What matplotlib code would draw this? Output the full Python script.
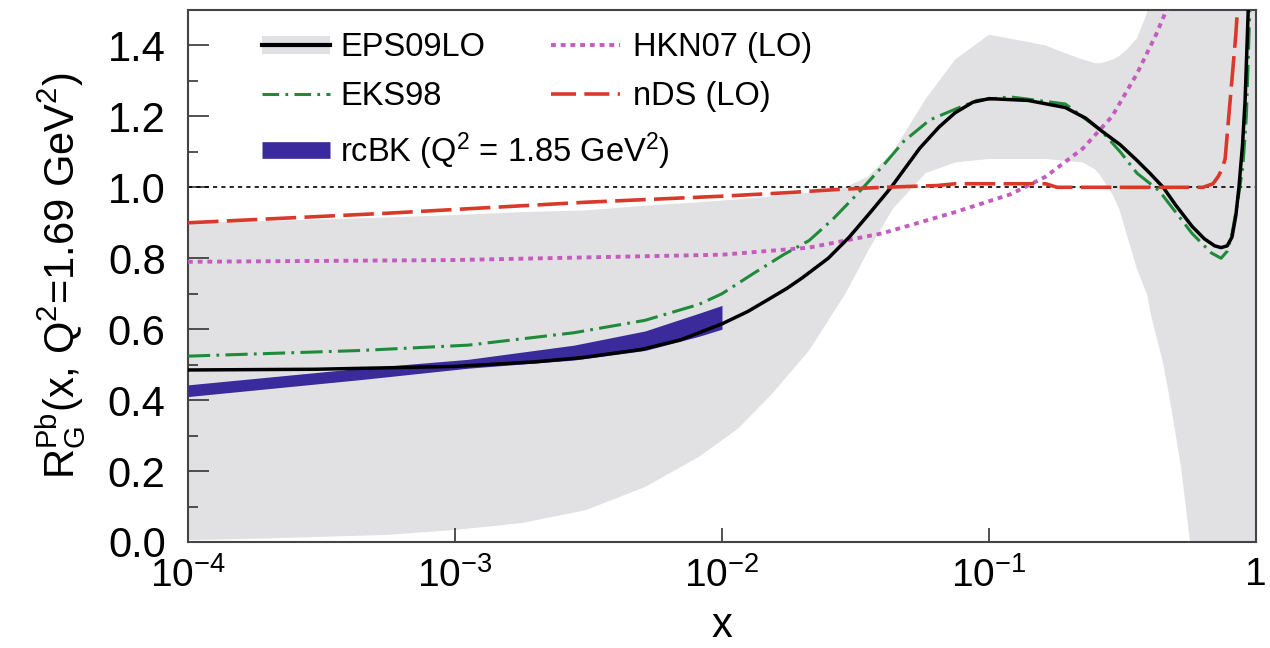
import matplotlib
matplotlib.use("Agg")
import matplotlib.pyplot as plt
from matplotlib.lines import Line2D
from matplotlib.ticker import MultipleLocator, NullLocator, FixedLocator, FixedFormatter

plt.rcParams['font.family'] = ['Liberation Sans', 'DejaVu Sans']
plt.rcParams['mathtext.default'] = 'regular'
plt.rcParams['lines.scale_dashes'] = False

# EPS09LO uncertainty band
band_x = [1e-4, 2e-4, 5.6e-4, 1e-3, 1.77e-3, 3.1e-3, 5.15e-3, 8.2e-3, 0.0115, 0.0155,
          0.0212, 0.029, 0.0352, 0.0437, 0.058, 0.0746, 0.1, 0.14, 0.163, 0.19, 0.225,
          0.25, 0.263, 0.29, 0.307, 0.33, 0.358, 0.39, 0.407, 0.45, 0.476, 0.524, 0.566,
          0.7, 1.0]
band_lo = [0.005, 0.01, 0.02, 0.034, 0.053, 0.09, 0.155, 0.24, 0.32, 0.42,
           0.54, 0.70, 0.82, 0.94, 1.04, 1.07, 1.08, 1.08, 1.08, 1.075, 1.07,
           1.05, 1.03, 0.98, 0.94, 0.86, 0.77, 0.70, 0.63, 0.50, 0.40, 0.21, 0.0,
           -0.5, -0.5]
band_hi = [0.90, 0.905, 0.915, 0.922, 0.93, 0.935, 0.948, 0.958, 0.966, 0.975,
           0.985, 1.0, 1.03, 1.10, 1.25, 1.36, 1.43, 1.41, 1.40, 1.38, 1.36,
           1.35, 1.35, 1.36, 1.37, 1.39, 1.42, 1.49, 1.55, 1.7, 1.8, 1.9, 2.0,
           2.0, 2.0]

# EPS09LO central
eps_x = [1e-4, 3e-4, 1e-3, 2e-3, 3e-3, 5e-3, 7e-3, 1e-2, 0.0125, 0.015, 0.0175, 0.02,
         0.025, 0.03, 0.036, 0.043, 0.055, 0.065, 0.0746, 0.087, 0.1, 0.14, 0.193,
         0.23, 0.263, 0.31, 0.358, 0.40, 0.449, 0.5, 0.576, 0.64, 0.70, 0.74, 0.78,
         0.813, 0.84, 0.863, 0.89, 0.91, 0.94]
eps_y = [0.485, 0.487, 0.495, 0.508, 0.52, 0.543, 0.57, 0.615, 0.65, 0.685, 0.715, 0.745,
         0.80, 0.86, 0.93, 1.0, 1.11, 1.17, 1.21, 1.24, 1.25, 1.245, 1.225,
         1.195, 1.16, 1.12, 1.076, 1.04, 1.0, 0.95, 0.89, 0.855, 0.835, 0.83, 0.835,
         0.86, 0.92, 1.0, 1.12, 1.245, 1.55]

# EKS98
eks_x = [1e-4, 4.45e-4, 1.12e-3, 2.79e-3, 5.15e-3, 8.2e-3, 1e-2, 0.0133, 0.017, 0.0212,
         0.026, 0.032, 0.04, 0.048, 0.06, 0.0746, 0.09, 0.12, 0.193, 0.263, 0.31,
         0.358, 0.434, 0.5, 0.576, 0.68, 0.74, 0.78, 0.813, 0.85, 0.893, 0.92, 0.948]
eks_y = [0.524, 0.54, 0.555, 0.59, 0.625, 0.67, 0.70, 0.76, 0.81, 0.85,
         0.91, 0.98, 1.06, 1.13, 1.19, 1.22, 1.245, 1.255, 1.235, 1.16, 1.1,
         1.04, 0.99, 0.93, 0.87, 0.815, 0.80, 0.82, 0.87, 0.95, 1.06, 1.2, 1.5]

# HKN07 (LO)
hkn_x = [1e-4, 1e-3, 1e-2, 0.0212, 0.0397, 0.0746, 0.12, 0.163, 0.225, 0.289,
         0.358, 0.422, 0.493]
hkn_y = [0.79, 0.795, 0.81, 0.83, 0.87, 0.93, 0.98, 1.03, 1.11, 1.20,
         1.32, 1.43, 1.55]

# nDS (LO)
nds_x = [1e-4, 5.6e-4, 3.1e-3, 1e-2, 0.0177, 0.0272, 0.04, 0.064, 0.0746, 0.163,
         0.18, 0.45, 0.633, 0.69, 0.721, 0.745, 0.766, 0.8, 0.84, 0.86]
nds_y = [0.90, 0.927, 0.958, 0.975, 0.985, 0.994, 1.0, 1.005, 1.01, 1.01,
         1.0, 1.0, 1.0, 1.01, 1.03, 1.05, 1.08, 1.245, 1.43, 1.55]

# rcBK band
bk_x = [1e-4, 4.45e-4, 1.12e-3, 2.79e-3, 5.15e-3, 8.2e-3, 1e-2]
bk_lo = [0.41, 0.458, 0.49, 0.513, 0.54, 0.58, 0.60]
bk_hi = [0.443, 0.49, 0.515, 0.555, 0.595, 0.645, 0.667]

xticks = [1e-4, 1e-3, 1e-2, 1e-1, 1]
xtick_labels = ['$10^{-4}$', '$10^{-3}$', '$10^{-2}$', '$10^{-1}$', '1']

grey = '#e1e1e3'
green = '#1f8a3a'
red = '#d8392b'
magenta = '#c65bbf'
blue = '#3a2a9c'

fig = plt.figure(figsize=(12.7, 6.48), dpi=100)
ax = fig.add_axes([0.148, 0.1636, 0.841, 0.821])

ax.fill_between(band_x, band_lo, band_hi, color=grey, lw=0, zorder=1)
ax.axhline(1.0, color='black', lw=1.2, dashes=(3, 3), zorder=2)
ax.fill_between(bk_x, bk_lo, bk_hi, color=blue, lw=0, zorder=3)
ax.plot(hkn_x, hkn_y, color=magenta, lw=2.8, dashes=(3.5, 3.5),
        dash_capstyle='butt', zorder=4)
ax.plot(eks_x, eks_y, color=green, lw=2.2, dashes=(16, 4.5, 2, 4.5), zorder=5)
ax.plot(eps_x, eps_y, color='black', lw=2.5, zorder=6)
ax.plot(nds_x, nds_y, color=red, lw=2.6, dashes=(22, 6), zorder=7)

ax.set_xscale('log')
ax.set_xlim(1e-4, 1)
ax.set_ylim(0, 1.5)

ax.xaxis.set_major_locator(FixedLocator(xticks))
ax.xaxis.set_major_formatter(FixedFormatter(xtick_labels))
ax.xaxis.set_minor_locator(NullLocator())
ax.yaxis.set_major_locator(FixedLocator([0, 0.2, 0.4, 0.6, 0.8, 1.0, 1.2, 1.4]))
ax.yaxis.set_major_formatter(FixedFormatter(['0.0', '0.2', '0.4', '0.6', '0.8',
                                             '1.0', '1.2', '1.4']))
ax.yaxis.set_minor_locator(MultipleLocator(0.1))

ax.tick_params(axis='y', which='major', direction='in', length=15, width=1.2,
               pad=16, labelsize=30, color='#333333')
ax.tick_params(axis='y', which='minor', direction='in', length=7.5, width=1.2,
               color='#333333')
ax.tick_params(axis='x', which='major', direction='in', length=10, width=1.2,
               pad=11, labelsize=28, color='#333333')
for s in ax.spines.values():
    s.set_linewidth(1.5)
    s.set_color('#444444')

ax.set_ylabel('$R_G^{Pb}$(x, Q$^2$=1.69 GeV$^2$)', fontsize=30, labelpad=14)
ax.set_xlabel('x', fontsize=30, labelpad=8)

h_eps = (Line2D([], [], color=grey, lw=13, solid_capstyle='butt'),
         Line2D([], [], color='black', lw=3))
h_eks = Line2D([], [], color=green, lw=2.2, dashes=(12, 4.5, 2, 4.5))
h_bk = Line2D([], [], color=blue, lw=12, solid_capstyle='butt')
h_hkn = Line2D([], [], color=magenta, lw=2.8, dashes=(3.5, 3.5), dash_capstyle='butt')
h_nds = Line2D([], [], color=red, lw=2.6, dashes=(18, 6))

leg1 = ax.legend([h_eps, h_eks, h_bk], ['EPS09LO', 'EKS98', 'rcBK (Q$^2$ = 1.85 GeV$^2$)'],
                 loc='upper left', bbox_to_anchor=(0.069, 0.958), frameon=False,
                 fontsize=23.5, handlelength=2.1, handletextpad=0.3,
                 labelspacing=0.55, borderpad=0, borderaxespad=0)
ax.add_artist(leg1)
ax.legend([h_hkn, h_nds], ['HKN07 (LO)', 'nDS (LO)'],
          loc='upper left', bbox_to_anchor=(0.34, 0.958), frameon=False,
          fontsize=23.5, handlelength=2.1, handletextpad=0.4,
          labelspacing=0.55, borderpad=0, borderaxespad=0)

fig.savefig('out.png', dpi=100)
